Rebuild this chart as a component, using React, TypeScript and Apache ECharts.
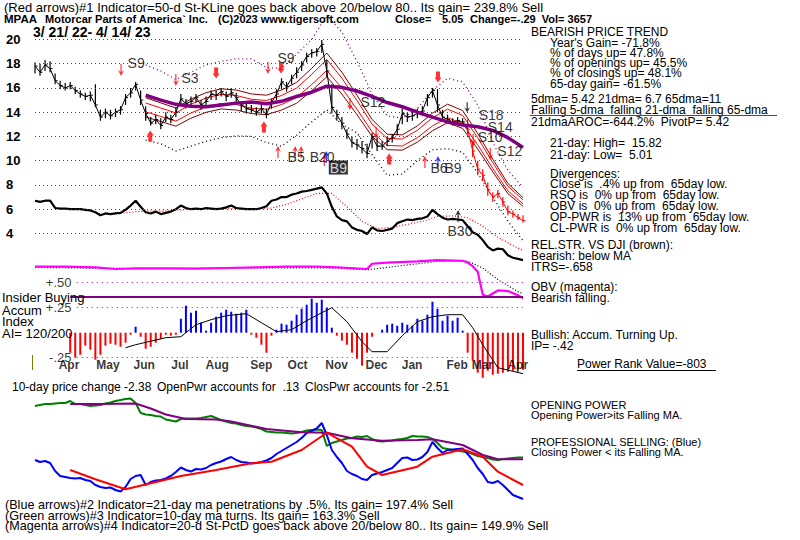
import React, { useEffect, useRef } from "react";
import * as echarts from "echarts";

const FF = "'Liberation Sans', Arial, Helvetica, sans-serif";

// ---------- price panel (x = sample index 0..97, 3/21/22 .. 4/14/23) ----------
const price = [17.8,17.3,17.9,17.6,16.6,16.2,16.0,16.2,15.8,15.5,
15.3,15.4,14.6,13.6,14.0,13.7,14.0,14.2,15.2,15.6,
16.3,15.0,13.9,13.1,13.4,12.9,13.6,13.4,14.0,15.1,
14.7,14.9,15.2,14.6,14.9,15.5,15.4,15.7,15.3,15.6,
15.2,14.6,14.3,14.2,14.0,14.3,13.8,14.8,15.5,16.5,
16.1,16.8,17.3,17.9,18.6,18.9,19.0,19.6,17.4,14.4,
13.8,13.1,12.2,11.5,11.3,11.0,10.6,12.0,11.2,11.2,
11.6,11.9,12.6,13.9,13.6,13.7,13.9,14.1,15.2,15.8,
14.6,13.6,13.4,13.2,13.3,13.2,12.6,10.8,9.3,8.8,
7.6,7.0,7.3,6.6,5.8,5.6,5.3,5.05];
const priceLow = [17.2,17.0,17.4,17.3,16.3,15.9,15.8,15.9,15.5,15.2,
15.0,14.9,14.4,13.3,13.5,13.4,13.6,13.8,14.6,15.2,
15.8,14.6,13.3,12.9,13.0,12.6,13.2,13.1,13.6,14.5,
14.3,14.5,14.8,14.2,14.5,15.0,15.0,15.3,14.9,15.2,
14.8,14.1,13.9,13.9,13.7,13.9,13.5,14.3,15.0,15.9,
15.7,16.3,16.8,17.4,18.1,18.5,18.6,18.9,16.9,13.9,
13.3,12.6,11.8,11.1,10.9,10.6,10.2,11.0,10.8,10.9,
11.2,11.5,12.1,13.0,13.2,13.3,13.5,13.7,14.5,15.2,
14.0,13.2,13.1,12.9,13.0,12.9,12.2,10.3,8.8,8.3,
7.1,6.6,6.9,6.2,5.5,5.3,5.1,4.9];
const priceHigh = [18.1,18.0,18.3,18.2,17.2,16.6,16.4,16.5,16.1,15.8,
15.6,15.7,16.3,14.2,14.3,14.2,14.3,14.5,15.5,16.0,
16.5,15.8,14.5,13.6,13.8,13.5,14.0,13.8,14.4,15.5,
15.1,15.3,15.5,15.0,15.3,15.8,15.8,16.0,15.7,16.0,
15.6,14.9,14.7,14.6,14.4,14.6,14.3,15.1,15.9,16.8,
16.5,17.1,17.7,18.2,18.9,19.2,19.3,19.96,18.3,16.3,
14.2,13.6,12.6,12.0,11.8,11.6,11.4,12.3,11.9,11.6,
12.0,12.2,13.0,14.3,14.0,14.1,14.3,14.5,15.5,16.0,
15.9,14.2,13.8,13.5,13.6,13.5,13.4,11.6,10.0,9.3,
8.2,7.4,7.6,7.0,6.3,5.9,5.6,5.5];
const redFrom = 86;

const maIdx = [22,25,28,31,34,37,40,43,46,49,52,55,58,61,64,67,70,73,76,79,82,85,88,91,94,97];
const bandInUp = [14.76,14.35,13.94,14.66,15.17,15.48,15.38,15.07,14.97,15.38,15.99,17.12,18.35,16.81,14.97,13.02,11.84,11.79,12.51,13.53,14.25,13.74,11.89,9.84,7.89,6.77];
const bandInLo = [14.04,13.65,13.26,13.94,14.43,14.72,14.63,14.33,14.24,14.63,15.21,16.28,17.45,15.99,14.24,12.38,11.26,11.21,11.9,12.87,13.55,13.07,11.31,9.36,7.51,6.44];
const bandOutUp = [15.19,14.77,14.35,15.09,15.61,15.93,15.83,15.51,15.4,15.83,16.46,17.62,18.88,17.3,15.4,13.4,12.19,12.13,12.87,13.93,14.66,14.14,12.24,10.13,8.12,6.96];
const bandOutLo = [13.61,13.23,12.85,13.51,13.99,14.27,14.18,13.89,13.8,14.18,14.74,15.78,16.92,15.5,13.8,12.0,10.91,10.87,11.53,12.47,13.14,12.66,10.96,9.07,7.28,6.24];
const ma65 = [15.4,15.0,14.65,14.5,14.45,14.6,14.75,14.85,14.7,14.9,15.3,15.65,16.15,16.05,15.75,15.3,14.8,14.45,14.0,13.6,13.2,12.95,12.8,12.5,11.9,11.1];
const upperDotted = [17.9,17.4,16.7,17.3,17.9,18.2,18.4,18.4,17.7,17.6,18.8,20.0,22.0,20.6,18.2,15.5,13.7,13.5,14.3,15.8,16.8,16.5,14.6,11.5,9.2,7.8];
const lowerDotted = [11.7,11.4,10.8,11.2,11.6,11.9,12.05,12.0,11.5,11.2,12.1,13.2,14.2,13.0,12.3,10.5,8.8,8.9,10.0,10.9,11.0,10.7,9.0,7.0,5.0,3.4];

const relStr = [6.7,6.6,6.7,6.7,6.1,6.05,6.05,6.0,6.0,6.0,
5.95,5.9,5.75,5.5,5.65,5.6,5.65,5.7,5.95,6.3,
6.7,6.2,5.75,5.65,5.8,5.6,5.7,5.8,6.0,6.3,
6.1,6.0,6.05,6.0,6.1,6.05,6.0,6.05,6.15,6.3,
6.1,6.05,6.0,6.0,6.0,6.1,6.25,6.7,6.8,7.0,
7.0,7.2,7.3,7.45,7.5,7.6,7.7,7.8,7.3,6.2,
5.4,5.1,5.0,4.5,4.3,4.2,3.95,4.5,4.25,4.2,
4.3,4.4,4.85,5.0,5.15,5.1,5.2,5.25,5.4,5.95,
5.6,5.3,5.15,5.2,5.15,5.1,4.6,4.1,3.9,3.45,
2.9,2.6,2.75,2.7,2.2,2.0,1.9,1.8];
const rsMaIdx = [17,20,23,26,29,32,35,38,41,44,47,50,53,56,59,62,65,68,71,74,77,80,83,86,89,92,95,97];
const rsMa = [5.65,5.8,5.85,5.85,5.95,6.0,6.0,6.05,6.05,6.05,6.1,6.4,6.85,7.3,7.3,6.2,5.0,4.4,4.5,4.75,5.0,5.4,5.45,5.3,4.6,3.7,3.0,2.6];

const obvIdx = [0,6,12,16,20,26,32,38,44,50,56,60,66,67,70,76,80,85,86,87,88,89,90,92,94,96,97];
const obv = [1.26,1.26,1.2,1.07,1.12,1.12,1.1,1.15,1.2,1.26,1.26,1.2,1.07,1.5,1.6,1.7,1.8,1.75,1.6,1.3,0.85,-1.05,-1.2,-0.7,-0.75,-1.1,-1.35];
const obvMaIdx = [0,20,40,60,66,70,76,80,86,89,92,96,97];
const obvMa = [1.2,1.1,1.15,1.15,1.0,1.2,1.5,1.7,1.72,1.15,0.2,-0.8,-0.95];

const gridVals = [4,6,8,10,12,14,16,18,20];

// signals: arrows
const sigIdx = [17.1,28.0,36.0,46.3,48.9,22.9,45.5,48.3,51.7,52.9,57.5,57.9,62.6,70.4,77.5,80.1,80.1,85.9,87.1,90.5,84.1,67.8];
const sigVal = [17.48,16.66,17.24,17.65,17.65,12.04,12.78,10.72,10.72,10.72,10.06,10.3,14.68,10.14,9.89,9.89,16.9,14.4,11.7,10.55,5.44,12.3];
const sigKind = ["dn","dn","DN","dn","DN","UP","UP","up","up","up","up","bup","dn","UP","up","bup","DN","kdn","dn","dn","kup","dn"];
// signals: labels
const labIdx = [18.3,29.0,48.1,64.6,88.1,89.9,87.9,91.8,50.1,54.5,58.3,78.5,81.3,81.9];
const labVal = [18.06,16.82,18.47,14.84,13.73,12.82,11.92,10.84,10.27,10.27,9.44,9.44,9.44,4.2];
const labText = ["S9","S3","S9","S12","S18","S14","S10","S12","B5","B20","B9","B6","B9","B30"];
const labBoxed = [false,false,false,false,false,false,false,false,false,false,true,false,false,false];

// ---------- accumulation panel ----------
const accumStart = 7;
const accum = [-0.2,-0.25,-0.22,
-0.13,-0.17,-0.27,-0.22,-0.13,-0.11,-0.12,-0.14,-0.1,-0.02,
0.06,-0.04,-0.16,-0.14,-0.1,-0.06,-0.02,-0.03,-0.02,0.14,
0.27,0.2,0.22,0.1,0.02,0.1,0.16,0.2,0.23,0.21,
0.19,0.2,0.23,-0.02,-0.05,-0.12,-0.2,-0.03,0.03,0.09,
0.08,0.12,0.18,0.24,0.28,0.34,0.3,0.33,0.25,0.05,
-0.03,-0.08,-0.12,-0.2,-0.26,-0.33,-0.2,-0.04,0.0,0.03,
0.08,0.09,0.07,0.1,0.08,0.07,0.14,0.12,0.18,0.31,
0.24,0.12,0.17,0.12,0.15,0.02,-0.2,-0.28,-0.4,-0.45,
-0.38,-0.42,-0.41,-0.4,-0.39,-0.38,-0.37,-0.37];
const accMaIdx = [18,20,26,29,32,35,38,42,45,48,51,54,57,59,62,65,67,70,73,76,79,82,85,87,89,92,97];
const accMa = [-0.15,-0.12,-0.05,-0.04,0.08,0.13,0.17,0.19,0.1,0.01,0.03,0.12,0.2,0.25,0.11,-0.09,-0.19,-0.19,-0.03,0.11,0.16,0.18,0.18,0.05,-0.12,-0.35,-0.41];
const insiderLevel = 0.355;
const accTickVals = [0.5, 0.25, -0.25];
const accTickText = ["+.50", "+.25", "-.25"];
const monthPos = [4.6,12.1,19.5,27.0,33.8,42.7,50.1,57.6,65.6,72.8,81.7,86.7,93.8];
const months = ["Apr","May","Jun","Jul","Aug","Sep","Oct","Nov","Dec","Jan","Feb","Mar","Apr"];

// ---------- opening / closing power ----------
const openPwr = [99,100,101,101,101.5,102,102,104,101,101,
100,99,99.5,100,101.5,102.5,104,105,106,106.5,
102,92,90.5,90,89,88.5,85.5,84.5,83.5,86,
86.5,86.5,86.5,87,88,89,87,85,83.5,82,
81.5,80,79,78.5,77.5,76,73.5,73,72.5,72.5,
72,71.5,72,73,74.5,75,75.5,75,59,62,
63.5,65,66.5,67,68.5,68,69,66,64,63.5,
64,64.5,65.5,66,67,69,68.5,68.5,68,66,
62,57,56,55,54.5,53.5,53,51,49,48,
47,45.5,45,46,46.5,47,47.5,47.5];
const closePwr = [45,43,44,42,34,29,28,27,26.5,27,
25,24,20,18,17,17.5,15,13.5,18,26,
29,30,20,23,24.5,25,26.5,29,33,37.5,
35,33.5,36,35.5,37,40,42,43.5,46,48,
45,43,42.5,41.5,42,43,44.5,47,51,54,
57,60,63,67,72,74,76.5,82,70,55,
48,42,34,31,29,26,25,30,31.5,33,
35,37,42,47,47.5,45,45.5,48,53,63,
57,52,55,55.5,56,56.5,51,45,37,31,
23,22,24,20,15,10,8,6];
const opMaIdx = [7,13,20,23,26,30,36,39,46,53,58,63,69,76,79,85,89,92,97];
const opMa = [101,101,101.5,96.5,90.5,86,85.5,83.5,76,72.7,72.3,66.7,64.3,65,65.7,60,50,45.7,45.7];
const cpMaIdx = [7,12,18,23,29,36,43,47,53,58,63,66,69,76,79,85,89,92,97];
const cpMa = [35,25.7,15.7,21.7,29,35,41.7,43.3,55,72.3,58.3,38.3,30,38.3,48.3,55.7,48.3,33.3,20];

// ---------- helpers ----------
const seq = (vals: number[], start = 0) => vals.map((v, i) => [start + i, v]);
const pts = (idx: number[], vals: number[]) => idx.map((x, i) => [x, vals[i]]);

const ARROW_DN_THIN = "path://M2.4,0 L3.6,0 L3.6,8 L6,6 L3,12 L0,6 L2.4,8 Z";
const ARROW_UP_THIN = "path://M2.4,12 L3.6,12 L3.6,4 L6,6 L3,0 L0,6 L2.4,4 Z";
const ARROW_DN_THICK = "path://M1.5,0 L5.5,0 L5.5,6 L7,6 L3.5,11 L0,6 L1.5,6 Z";
const ARROW_UP_THICK = "path://M1.5,11 L5.5,11 L5.5,5 L7,5 L3.5,0 L0,5 L1.5,5 Z";

function arrowItem(x: number, v: number, kind: string) {
  const map: Record<string, [string, number[], string]> = {
    dn: [ARROW_DN_THIN, [6, 12], "#ff0000"],
    up: [ARROW_UP_THIN, [6, 12], "#ff0000"],
    DN: [ARROW_DN_THICK, [7, 11], "#ff0000"],
    UP: [ARROW_UP_THICK, [7, 11], "#ff0000"],
    bup: [ARROW_UP_THIN, [6, 12], "#0000ff"],
    kdn: [ARROW_DN_THIN, [6, 10], "#000000"],
    kup: [ARROW_UP_THIN, [6, 12], "#000000"],
  };
  const [sym, size, color] = map[kind];
  return { value: [x, v], symbol: sym, symbolSize: size, itemStyle: { color } };
}

function txt(text: string, x: number, y: number, size = 12, weight = "normal", fill = "#000") {
  return {
    type: "text", x, y, silent: true, z: 100,
    style: { text, fill, fontSize: size, fontWeight: weight, fontFamily: FF,
      align: "left", verticalAlign: "middle", textAlign: "left", textVerticalAlign: "middle" },
  };
}
function hline(x1: number, x2: number, y: number, color: string, w = 1) {
  return { type: "line", silent: true, z: 100, shape: { x1, y1: y, x2, y2: y }, style: { stroke: color, lineWidth: w } };
}

const lineS = (data: any[], color: string, width: number, type: any = "solid", xi = 0, z = 2) => ({
  type: "line", xAxisIndex: xi, yAxisIndex: xi, data, showSymbol: false, symbol: "none",
  lineStyle: { color, width, type }, z, silent: true, animation: false,
});

const textLines: any[] = [
  txt("(Red arrows)#1 Indicator=50-d St-KLine goes back above 20/below 80.. Its gain= 239.8% Sell", 4, 7, 13),
  txt("MPAA", 4, 19, 11.5, "bold"),
  txt("Motorcar Parts of America` Inc.", 45, 19, 11, "bold"),
  txt("(C)2023 www.tigersoft.com", 218, 19, 11, "bold"),
  txt("Close=", 395, 19, 11, "bold"),
  txt("5.05", 442, 19, 11, "bold"),
  txt("Change=-.29  Vol= 3657", 470, 19, 11, "bold"),
  txt("3/ 21/ 22- 4/ 14/ 23", 33, 32, 14, "bold"),

  txt("BEARISH PRICE TREND", 531, 31.5),
  txt("Year's Gain= -71.8%", 550, 42.5),
  txt("% of days up= 47.8%", 550, 53),
  txt("% of openings up= 45.5%", 550, 63),
  txt("% of closings up= 48.1%", 550, 73),
  txt("65-day gain= -61.5%", 550, 83.5),
  txt("5dma= 5.42 21dma= 6.7 65dma=11", 531, 99),
  txt("Falling 5-dma  falling 21-dma  falling 65-dma", 531, 109.5),
  hline(530, 777, 115.5, "#ff0000", 1),
  txt("21dmaAROC=-644.2%  PivotP= 5.42", 531, 121.5),
  txt("21-day: High=  15.82", 550, 143),
  txt("21-day: Low=  5.01", 550, 155),
  txt("Divergences:", 550, 173.5),
  txt("Close is  .4% up from  65day low.", 550, 184),
  txt("RSQ is  0% up from  65day low.", 550, 195),
  txt("OBV is  0% up from  65day low.", 550, 206),
  txt("OP-PWR is  13% up from  65day low.", 550, 217),
  txt("CL-PWR is  0% up from  65day low.", 550, 228),
  txt("REL.STR. VS DJI (brown):", 531, 245),
  txt("Bearish: below MA", 531, 256),
  txt("ITRS=-.658", 531, 266.5),
  txt("OBV (magenta):", 531, 286.5),
  txt("Bearish falling.", 531, 297.5),
  txt("Bullish: Accum. Turning Up.", 531, 335),
  txt("IP= -.42", 531, 345.5),
  txt("Power Rank Value=-803", 577, 364),
  hline(577, 716, 370.5, "#000", 1),

  txt("Insider Buying", 2, 297, 13),
  txt("Accum", 2, 310, 13),
  txt("Index", 2, 321.5, 13),
  txt("AI= 120/200", 2, 333, 13),
  { type: "line", silent: true, z: 100, shape: { x1: 32.5, y1: 355, x2: 32.5, y2: 370 }, style: { stroke: "#808000", lineWidth: 1 } },

  txt("10-day price change -2.38", 12, 386.5),
  txt("OpenPwr accounts for  .13", 157, 386.5),
  txt("ClosPwr accounts for -2.51", 305, 386.5),
  txt("OPENING POWER", 531, 404.5, 11),
  txt("Opening Power>its Falling MA.", 531, 415, 11),
  txt("PROFESSIONAL SELLING: (Blue)", 531, 442, 11),
  txt("Closing Power < its Falling MA.", 531, 452, 11),
  txt("(Blue arrows)#2 Indicator=21-day ma penetrations by .5%. Its gain= 197.4% Sell", 5, 505, 12.6),
  txt("(Green arrows)#3 Indicator=10-day ma turns. Its gain= 163.3% Sell", 5, 515.5, 12.6),
  txt("(Magenta arrows)#4 Indicator=20-d St-PctD goes back above 20/below 80.. Its gain= 149.9% Sell", 5, 526, 12.6),
];

function buildOption(): any {
  const gridL = 35, gridW = 488;
  return {
    animation: false,
    backgroundColor: "#ffffff",
    textStyle: { fontFamily: FF },
    grid: [
      { left: gridL, width: gridW, top: 3.1, height: 303.1 },
      { left: gridL, width: gridW, top: 282.7, height: 100 },
      { left: gridL, width: gridW, top: 395, height: 110 },
    ],
    xAxis: [0, 1, 2].map((g) => ({ type: "value", gridIndex: g, min: 0, max: 97, show: false })),
    yAxis: [
      {
        type: "value", gridIndex: 0, min: -2, max: 23, interval: 2,
        axisLine: { show: false }, axisTick: { show: false }, splitLine: { show: false },
        axisLabel: {
          show: true, align: "left", margin: 29, color: "#000", fontSize: 13, fontWeight: "bold", fontFamily: FF,
          formatter: (v: number) => (v >= 4 && v <= 20 ? String(v) : ""),
        },
      },
      { type: "value", gridIndex: 1, min: -0.5, max: 0.5, show: false },
      { type: "value", gridIndex: 2, min: 0, max: 110, show: false },
    ],
    graphic: textLines,
    series: [
      {
        type: "line", xAxisIndex: 0, yAxisIndex: 0, data: [], silent: true, z: 1,
        markLine: {
          silent: true, symbol: ["none", "none"], label: { show: false },
          lineStyle: { color: "#008000", type: [1, 3], width: 1 },
          data: gridVals.map((v) => ({ yAxis: v })),
        },
      },
      lineS(pts(maIdx, upperDotted), "#800080", 1.3, [1, 3]),
      lineS(pts(maIdx, lowerDotted), "#000000", 1.3, [1, 3]),
      lineS(pts(maIdx, bandOutUp), "#800000", 1),
      lineS(pts(maIdx, bandOutLo), "#800000", 1),
      lineS(pts(maIdx, bandInUp), "#ff0000", 1),
      lineS(pts(maIdx, bandInLo), "#ff0000", 1),
      lineS(pts(maIdx, ma65), "#800080", 3.5, "solid", 0, 4),
      {
        type: "custom", xAxisIndex: 0, yAxisIndex: 0, z: 3, silent: true,
        data: price.map((c, i) => [i, priceLow[i], priceHigh[i], c]),
        encode: { x: 0, y: [1, 2] },
        renderItem: (_p: any, api: any) => {
          const i = api.value(0);
          const lo = api.coord([i, api.value(1)]);
          const hi = api.coord([i, api.value(2)]);
          const cl = api.coord([i, api.value(3)]);
          const color = i >= redFrom ? "#ff0000" : "#000000";
          return {
            type: "group",
            children: [
              { type: "line", shape: { x1: lo[0], y1: lo[1], x2: hi[0], y2: hi[1] }, style: { stroke: color, lineWidth: 1.2 } },
              { type: "line", shape: { x1: cl[0], y1: cl[1], x2: cl[0] + 2.5, y2: cl[1] }, style: { stroke: color, lineWidth: 1 } },
            ],
          };
        },
      },
      lineS(seq(price.slice(0, redFrom + 1)), "#000000", 1, "solid", 0, 3),
      lineS(seq(price.slice(redFrom), redFrom), "#ff0000", 1, "solid", 0, 3),
      lineS(seq(relStr), "#000000", 2.2, "solid", 0, 3),
      lineS(pts(rsMaIdx, rsMa), "#ff0000", 1.2, [1, 2]),
      lineS(pts(obvMaIdx, obvMa), "#000000", 1.2, [1, 2]),
      lineS(pts(obvIdx, obv), "#ff00ff", 2.2, "solid", 0, 3),
      {
        type: "scatter", xAxisIndex: 0, yAxisIndex: 0, z: 6, silent: true,
        data: sigIdx.map((x, i) => arrowItem(x, sigVal[i], sigKind[i])),
      },
      {
        type: "scatter", xAxisIndex: 0, yAxisIndex: 0, z: 7, silent: true,
        symbol: "rect", symbolSize: 1, itemStyle: { color: "rgba(0,0,0,0)" },
        data: labIdx.map((x, i) => ({
          value: [x, labVal[i]],
          label: {
            show: true, position: "right", distance: 0, formatter: labText[i],
            fontSize: 14, fontFamily: FF, color: labBoxed[i] ? "#ffffff" : "#000000",
            backgroundColor: labBoxed[i] ? "#000000" : "transparent",
            padding: labBoxed[i] ? [0, 1] : 0,
          },
        })),
      },
      {
        type: "bar", xAxisIndex: 1, yAxisIndex: 1, barWidth: 2, silent: true, z: 2,
        data: accum.map((v, i) => ({ value: [accumStart + i, v], itemStyle: { color: v >= 0 ? "#0000ff" : "#ff0000" } })),
        markLine: {
          silent: true, symbol: ["none", "none"], label: { show: false },
          data: [
            ...accTickVals.map((v) => [
              { coord: [8.3, v], lineStyle: { color: "#c000c0", type: [1, 4], width: 1.2 } },
              { coord: [97, v] },
            ]),
            [
              { coord: [accumStart, insiderLevel], lineStyle: { color: "#800080", type: "solid", width: 2 } },
              { coord: [97, insiderLevel] },
            ],
          ],
        },
      },
      lineS(pts(accMaIdx, accMa), "#000000", 1, "solid", 1, 3),
      {
        type: "scatter", xAxisIndex: 1, yAxisIndex: 1, z: 7, silent: true,
        symbol: "rect", symbolSize: 1, itemStyle: { color: "rgba(0,0,0,0)" },
        data: accTickVals.map((v, i) => ({
          value: [7.35, v],
          label: { show: true, position: "left", distance: 0, formatter: accTickText[i], fontSize: 13, fontFamily: FF, color: "#000" },
        })),
      },
      {
        type: "scatter", xAxisIndex: 1, yAxisIndex: 1, z: 7, silent: true,
        symbol: "rect", symbolSize: 1, itemStyle: { color: "rgba(0,0,0,0)" },
        data: monthPos.map((x, i) => ({
          value: [x, -0.32],
          label: { show: true, position: "right", distance: 0, formatter: months[i], fontSize: 12, fontWeight: "bold", fontFamily: FF, color: "#000" },
        })),
      },
      lineS(seq(openPwr), "#008000", 2, "solid", 2, 2),
      lineS(pts(opMaIdx, opMa), "#800080", 2, "solid", 2, 3),
      lineS(seq(closePwr), "#0000ff", 2, "solid", 2, 2),
      lineS(pts(cpMaIdx, cpMa), "#ff0000", 2, "solid", 2, 3),
    ],
  };
}

export default function App() {
  const ref = useRef<HTMLDivElement>(null);
  useEffect(() => {
    if (!ref.current) return;
    const chart = echarts.init(ref.current, null, { renderer: "svg" });
    chart.setOption(buildOption());
    return () => chart.dispose();
  }, []);
  return (
    <div
      ref={ref}
      style={{ position: "absolute", left: 0, top: 0, width: 800, height: 540, background: "#fff" }}
    />
  );
}
